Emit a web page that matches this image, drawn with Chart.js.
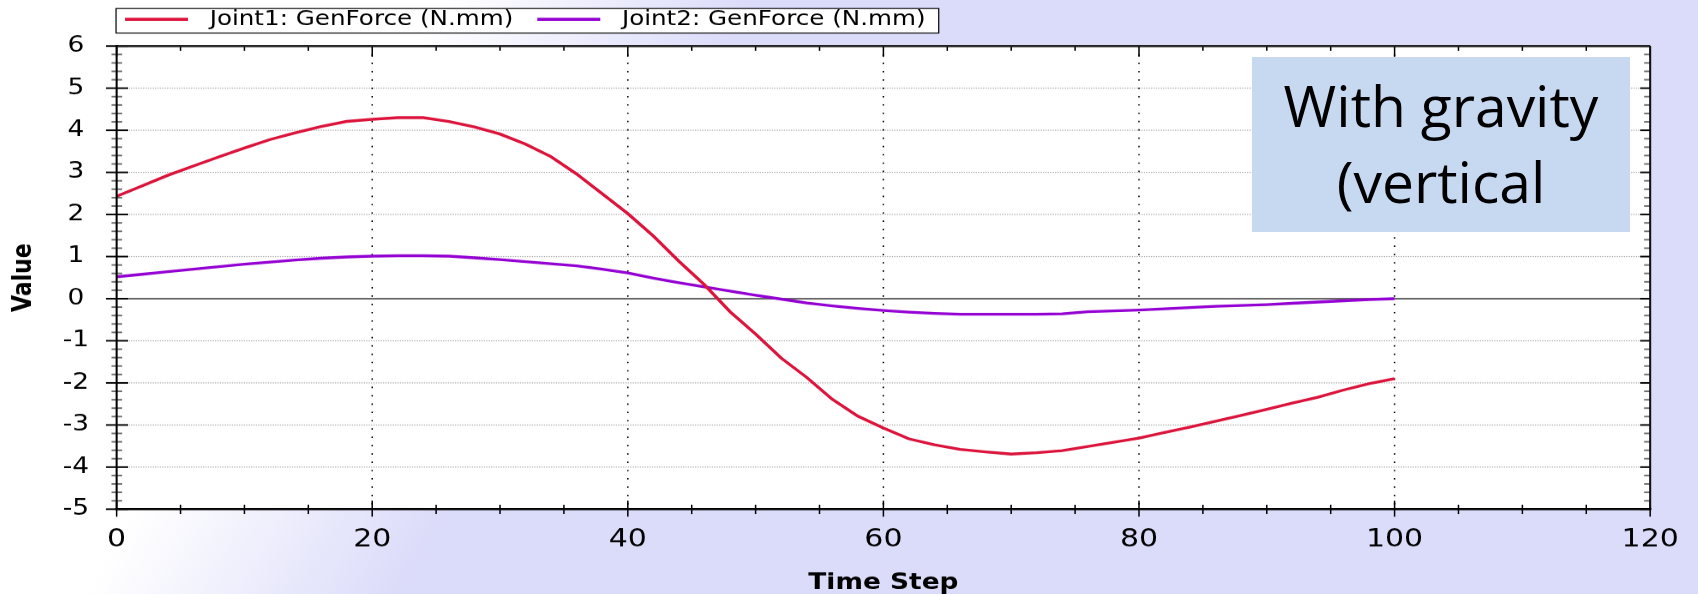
<!DOCTYPE html>
<html>
<head>
<meta charset="utf-8">
<script src="https://cdn.jsdelivr.net/npm/chart.js@4.4.1/dist/chart.umd.min.js"></script>
<style>
  html, body { margin: 0; padding: 0; }
  #wrap {
    position: relative;
    width: 1698px;
    height: 594px;
    overflow: hidden;
    background: linear-gradient(121deg, #ffffff 0px, #ffffff 380px, rgb(219, 219, 250) 650px, rgb(219, 219, 250) 100%);
  }
  #chart { position: absolute; left: 0; top: 0; }
  #note {
    position: absolute;
    left: 1252px;
    top: 57px;
    width: 378px;
    height: 175px;
    box-sizing: border-box;
    padding-top: 9.6px;
    background: #c6d9f1;
    color: #000;
    text-align: center;
    font-family: "Open Sans", sans-serif;
    font-size: 57px;
    line-height: 76.5px;
  }
</style>
</head>
<body>
<div id="wrap">
  <!-- drawn 1415 units wide, shown 1698px wide: the original plot is stretched sideways -->
  <canvas id="chart" width="1415" height="594" style="width:1698px;height:594px"></canvas>
  <div id="note">With gravity<br>(vertical</div>
</div>
<script>
// Data (every second time step)
const timeSteps = [0, 2, 4, 6, 8, 10, 12, 14, 16, 18, 20, 22, 24, 26, 28, 30, 32, 34, 36, 38,
  40, 42, 44, 46, 48, 50, 52, 54, 56, 58, 60, 62, 64, 66, 68, 70, 72, 74, 76, 78,
  80, 82, 84, 86, 88, 90, 92, 94, 96, 98, 100];
const joint1Force = [2.43, 2.68, 2.93, 3.15, 3.37, 3.58, 3.78, 3.94, 4.09, 4.21,
  4.26, 4.30, 4.30, 4.21, 4.08, 3.91, 3.67, 3.37, 2.96, 2.49,
  2.02, 1.49, 0.89, 0.33, -0.31, -0.84, -1.41, -1.87, -2.39, -2.79,
  -3.07, -3.33, -3.47, -3.58, -3.64, -3.69, -3.66, -3.61, -3.51, -3.41,
  -3.31, -3.18, -3.05, -2.91, -2.77, -2.63, -2.48, -2.34, -2.17, -2.02, -1.90];
const joint2Force = [0.52, 0.58, 0.64, 0.70, 0.76, 0.82, 0.87, 0.92, 0.96, 0.99,
  1.01, 1.02, 1.02, 1.01, 0.97, 0.93, 0.88, 0.83, 0.78, 0.70,
  0.61, 0.49, 0.38, 0.28, 0.18, 0.08, -0.01, -0.10, -0.17, -0.23,
  -0.28, -0.32, -0.35, -0.37, -0.37, -0.37, -0.37, -0.36, -0.31, -0.29,
  -0.27, -0.24, -0.21, -0.18, -0.16, -0.14, -0.11, -0.08, -0.05, -0.02, 0.00];
const seriesLabels = ["Joint1: GenForce (N.mm)", "Joint2: GenForce (N.mm)"];
const seriesColors = ["#dc143c", "#9400d3"];
const xTicks = [0, 20, 40, 60, 80, 100, 120];
const yTicks = [-5, -4, -3, -2, -1, 0, 1, 2, 3, 4, 5, 6];

Chart.defaults.font.family = '"DejaVu Sans", sans-serif';
Chart.defaults.color = "#000";

// Draw one straight line segment
function stroke(ctx, x1, y1, x2, y2, width, color, dash) {
  ctx.save();
  ctx.lineWidth = width;
  ctx.strokeStyle = color;
  ctx.setLineDash(dash || []);
  ctx.beginPath();
  ctx.moveTo(x1, y1);
  ctx.lineTo(x2, y2);
  ctx.stroke();
  ctx.restore();
}

// Plot frame, dotted grid, crossing ticks and the boxed legend
const framePlugin = {
  id: "frame",
  beforeDraw(chart) {
    const { ctx, chartArea: a } = chart;
    ctx.save();
    ctx.fillStyle = "#fff";
    ctx.fillRect(a.left, a.top, a.right - a.left, a.bottom - a.top);
    ctx.restore();
  },
  beforeDatasetsDraw(chart) {
    const { ctx, chartArea: a, scales } = chart;
    const xs = scales.x, ys = scales.y;
    yTicks.forEach(v => {
      if (v === 0 || v === ys.min || v === ys.max) return;
      const y = ys.getPixelForValue(v);
      stroke(ctx, a.left, y, a.right, y, 1, "#ababab", [1, 1]);
    });
    xTicks.forEach(v => {
      if (v === xs.min || v === xs.max) return;
      const x = xs.getPixelForValue(v);
      stroke(ctx, x, a.top, x, a.bottom, 1.25, "#000", [1.4, 6.9]);
    });
    const y0 = ys.getPixelForValue(0);
    stroke(ctx, a.left, y0, a.right, y0, 1.2, "#333");
  },
  afterDatasetsDraw(chart) {
    const { ctx, chartArea: a, scales } = chart;
    const xs = scales.x, ys = scales.y;
    // minor ticks: every 5 steps along x, every 0.2 along y
    for (let v = xs.min; v <= xs.max; v += 5) {
      const x = xs.getPixelForValue(v);
      const major = xTicks.includes(v);
      stroke(ctx, x, a.bottom - (major ? 8.5 : 4.5), x, a.bottom + (major ? 7.5 : 4.8), 1.25, "#000");
      stroke(ctx, x, a.top, x, a.top + (major ? 10.7 : 4.7), 1.25, "#000");
    }
    for (let k = 0; k <= (ys.max - ys.min) * 5; k++) {
      const v = ys.min + k / 5;
      const y = ys.getPixelForValue(v);
      const major = k % 5 === 0;
      if (major) {
        stroke(ctx, a.left - 8.9, y, a.left + 9.5, y, 1.6, "#000");
        stroke(ctx, a.right - 8.3, y, a.right, y, 1.6, "#000");
      } else {
        stroke(ctx, a.left - 4.3, y, a.left + 4.6, y, 1.6, "#6e6e6e");
        stroke(ctx, a.right - 5, y, a.right, y, 1.6, "#6e6e6e");
      }
    }
    stroke(ctx, a.left, a.top, a.right, a.top, 2, "#222");
    stroke(ctx, a.right, a.top, a.right, a.bottom, 1.7, "#111");
    stroke(ctx, a.left, a.top - 1, a.left, a.bottom + 1, 1.7, "#000");
    stroke(ctx, a.left - 1, a.bottom, a.right + 1, a.bottom, 2, "#000");
  },
  afterDraw(chart) {
    const { ctx, chartArea: a } = chart;
    const top = 8.5, height = 24.5, mid = 20;
    ctx.save();
    ctx.font = '20.5px "DejaVu Sans", sans-serif';
    ctx.textBaseline = "middle";
    let cur = a.left + 7;
    const items = chart.data.datasets.map(ds => {
      const item = { x: cur, w: ctx.measureText(ds.label).width, ds };
      cur += 52.5 + 18 + item.w + 20;
      return item;
    });
    const right = cur - 20 + 11;
    ctx.fillStyle = "#fff";
    ctx.fillRect(a.left - 0.5, top, right - a.left + 0.5, height);
    ctx.strokeStyle = "#000";
    ctx.lineWidth = 1;
    ctx.strokeRect(a.left - 0.5, top, right - a.left + 0.5, height);
    items.forEach(it => {
      stroke(ctx, it.x, mid - 0.7, it.x + 52.5, mid - 0.7, 3, it.ds.borderColor);
      ctx.fillStyle = "#000";
      ctx.fillText(it.ds.label, it.x + 52.5 + 18, mid);
    });
    ctx.restore();
  }
};

const datasets = [joint1Force, joint2Force].map((series, i) => ({
  label: seriesLabels[i],
  data: timeSteps.map((t, j) => ({ x: t, y: series[j] })),
  borderColor: seriesColors[i],
  backgroundColor: seriesColors[i],
  borderWidth: 2.8,
  pointRadius: 0,
  tension: 0,
  fill: false
}));

new Chart(document.getElementById("chart"), {
  type: "line",
  data: { datasets },
  plugins: [framePlugin],
  options: {
    responsive: false,
    devicePixelRatio: 1.2,
    animation: false,
    layout: { padding: { top: 46, right: 38.7, left: 0, bottom: 0 } },
    plugins: { legend: { display: false }, tooltip: { enabled: false } },
    scales: {
      x: {
        type: "linear",
        min: 0,
        max: 120,
        afterBuildTicks: s => { s.ticks = xTicks.map(v => ({ value: v })); },
        afterFit: s => { s.height = 85.4; },
        grid: { display: false, drawTicks: false },
        border: { display: false },
        ticks: { font: { size: 25 }, color: "#000", padding: 16, maxRotation: 0, autoSkip: false },
        title: {
          display: true,
          text: "Time Step",
          color: "#000",
          font: { size: 22, weight: "bold", lineHeight: 1 },
          padding: { top: 0, bottom: 0 }
        }
      },
      y: {
        type: "linear",
        min: -5,
        max: 6,
        afterBuildTicks: s => { s.ticks = yTicks.map(v => ({ value: v })); },
        afterFit: s => { s.width = 97.2; },
        grid: { display: false, drawTicks: false },
        border: { display: false },
        ticks: { font: { size: 22 }, color: "#000", padding: 23, crossAlign: "center", autoSkip: false },
        title: {
          display: true,
          text: "Value",
          color: "#000",
          font: { size: 22, weight: "bold", lineHeight: 1 },
          padding: { top: 8.7, bottom: 0 }
        }
      }
    }
  }
});
</script>
</body>
</html>
